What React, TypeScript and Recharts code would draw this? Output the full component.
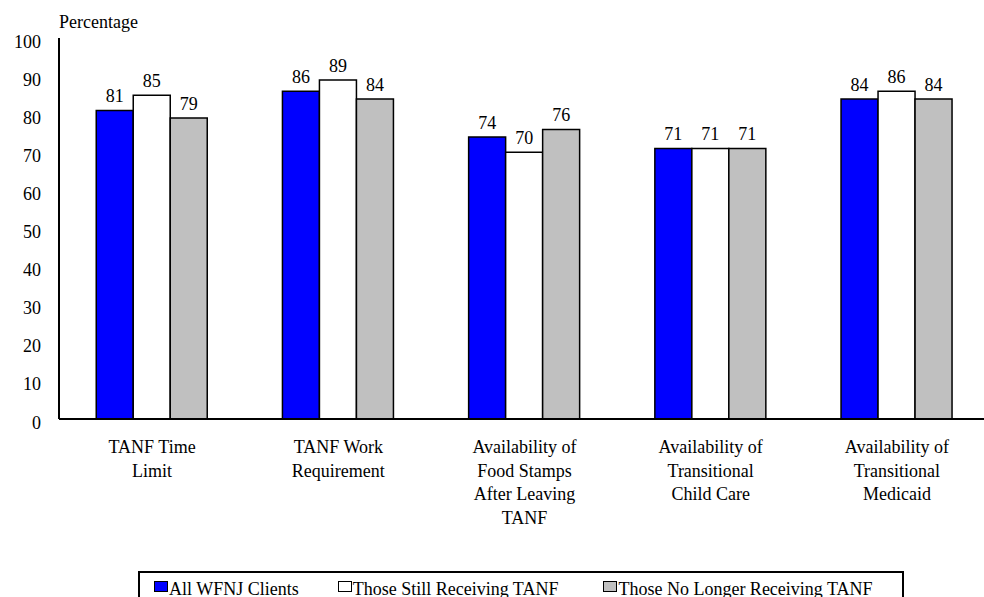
import { Bar, BarChart, LabelList, XAxis, YAxis } from "recharts";

const serif = "'Liberation Serif', 'Times New Roman', serif";
const textStyle = { fontFamily: serif, fontSize: 18, fill: "#000" };

const categories = [
  "TANF Time\nLimit",
  "TANF Work\nRequirement",
  "Availability of\nFood Stamps\nAfter Leaving\nTANF",
  "Availability of\nTransitional\nChild Care",
  "Availability of\nTransitional\nMedicaid",
];
const allClients = [81, 86, 74, 71, 84];
const stillReceiving = [85, 89, 70, 71, 86];
const noLongerReceiving = [79, 84, 76, 71, 84];
const yTicks = [0, 10, 20, 30, 40, 50, 60, 70, 80, 90, 100];

const series = [
  { key: "all", name: "All WFNJ Clients", fill: "#0000ff" },
  { key: "still", name: "Those Still Receiving TANF", fill: "#ffffff" },
  { key: "gone", name: "Those No Longer Receiving TANF", fill: "#c0c0c0" },
];

// space before each legend entry
const legendGaps = [14, 39, 45];

const data = categories.map((category, i) => ({
  category,
  all: allClients[i],
  still: stillReceiving[i],
  gone: noLongerReceiving[i],
}));

function CategoryTick({ x, y, payload }: any) {
  const lines = String(payload.value).split("\n");
  return (
    <text x={x} y={y + 34} textAnchor="middle" style={textStyle}>
      {lines.map((line, i) => (
        <tspan key={i} x={x} dy={i === 0 ? 0 : 23.5}>
          {line}
        </tspan>
      ))}
    </text>
  );
}

function ValueTick({ x, y, payload }: any) {
  return (
    <text x={x} y={y + 9.5} textAnchor="end" style={textStyle}>
      {payload.value}
    </text>
  );
}

function AxisTitle({ viewBox }: any) {
  return (
    <text x={viewBox.x + viewBox.width} y={viewBox.y - 10} style={textStyle}>
      Percentage
    </text>
  );
}

function BarValue({ x, y, width, value }: any) {
  return (
    <text x={x + width / 2} y={y - 8} textAnchor="middle" style={textStyle}>
      {value}
    </text>
  );
}

export default function App() {
  return (
    <div
      style={{
        position: "absolute",
        left: 0,
        top: 0,
        width: 984,
        height: 597,
        overflow: "hidden",
        background: "#fff",
        fontFamily: serif,
      }}
    >
      <BarChart
        width={1000}
        height={597}
        data={data}
        margin={{ top: 38, right: 10, bottom: 0, left: 0 }}
        barGap={0}
        barCategoryGap="20%"
        style={{ fontFamily: serif }}
      >
        <XAxis
          dataKey="category"
          height={178}
          tick={<CategoryTick />}
          tickLine={false}
          tickSize={0}
          tickMargin={0}
          interval={0}
          axisLine={{ stroke: "#000", strokeWidth: 2 }}
        />
        <YAxis
          width={59}
          domain={[0, 100]}
          ticks={yTicks}
          tick={<ValueTick />}
          tickLine={false}
          tickSize={0}
          tickMargin={18}
          axisLine={{ stroke: "#000", strokeWidth: 2 }}
          label={{ content: AxisTitle }}
        />
        {series.map((s) => (
          <Bar
            key={s.key}
            dataKey={s.key}
            name={s.name}
            fill={s.fill}
            stroke="#000"
            strokeWidth={1.5}
            isAnimationActive={false}
          >
            <LabelList dataKey={s.key} content={BarValue} />
          </Bar>
        ))}
      </BarChart>
      <div
        style={{
          position: "absolute",
          left: 138,
          top: 571,
          width: 766,
          height: 60,
          boxSizing: "border-box",
          border: "2px solid #000",
          display: "flex",
          alignItems: "flex-start",
          paddingTop: 7,
          fontSize: 18,
          lineHeight: "18px",
          color: "#000",
        }}
      >
        {series.map((s, i) => (
          <div
            key={s.key}
            style={{ display: "flex", alignItems: "flex-start", marginLeft: legendGaps[i] }}
          >
            <span
              style={{
                display: "inline-block",
                width: 14,
                height: 11,
                marginTop: 1,
                marginRight: 1,
                boxSizing: "border-box",
                border: "1.5px solid #000",
                background: s.fill,
              }}
            />
            <span style={{ whiteSpace: "nowrap" }}>{s.name}</span>
          </div>
        ))}
      </div>
    </div>
  );
}
